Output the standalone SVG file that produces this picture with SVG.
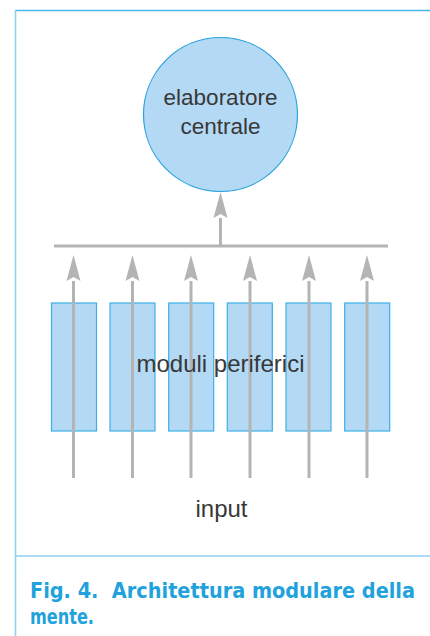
<svg xmlns="http://www.w3.org/2000/svg" width="430" height="636" viewBox="0 0 430 636">
  <style>
    .frame { stroke: #45b6e8; stroke-width: 1.6; fill: none; }
    .frame-side { stroke: #8ed2f0; stroke-width: 1.6; fill: none; }
    .wire { stroke: #b4b4b4; stroke-width: 3; fill: none; }
    .module { fill: #b3d9f5; stroke: #3cb0e6; stroke-width: 1.2; }
    .core { fill: #b3d9f5; stroke: #2aa3dc; stroke-width: 1.2; }
    .label { font-family: "Liberation Sans", Arial, sans-serif; fill: #383838; text-anchor: middle; }
    .caption { font-family: "Liberation Sans Narrow", "DejaVu Sans Condensed", "Liberation Sans", sans-serif; font-stretch: condensed; font-weight: bold; font-size: 21.5px; fill: #22a2dd; white-space: pre; }
  </style>
  <defs>
    <marker id="head" markerUnits="userSpaceOnUse" markerWidth="30" markerHeight="16" viewBox="-2 -8 30 16" refX="0" refY="0" orient="auto">
      <path d="M26,0 L0,-7 L4,0 L0,7 Z" fill="#b4b4b4"/>
    </marker>
  </defs>

  <!-- page frame -->
  <line class="frame" x1="15" y1="10.5" x2="430" y2="10.5"/>
  <line class="frame-side" x1="15.5" y1="10" x2="15.5" y2="636"/>
  <line class="frame-side" x1="15" y1="556" x2="430" y2="556"/>

  <!-- peripheral modules -->
  <g id="modulo-1"><rect class="module" x="51.5" y="303" width="45" height="128"/></g>
  <g id="modulo-2"><rect class="module" x="110" y="303" width="45" height="128"/></g>
  <g id="modulo-3"><rect class="module" x="168.7" y="303" width="45" height="128"/></g>
  <g id="modulo-4"><rect class="module" x="227.3" y="303" width="45" height="128"/></g>
  <g id="modulo-5"><rect class="module" x="286" y="303" width="45" height="128"/></g>
  <g id="modulo-6"><rect class="module" x="344.7" y="303" width="45" height="128"/></g>

  <!-- central processor -->
  <g id="elaboratore-centrale">
    <circle class="core" cx="220.5" cy="114.5" r="77"/>
    <text class="label" x="220.5" y="105" font-size="22.5">elaboratore</text>
    <text class="label" x="220.5" y="134" font-size="22.5">centrale</text>
  </g>

  <!-- connectors -->
  <g id="connettori">
    <line class="wire" x1="73.5" y1="478" x2="73.5" y2="281" marker-end="url(#head)"/>
    <line class="wire" x1="132.5" y1="478" x2="132.5" y2="281" marker-end="url(#head)"/>
    <line class="wire" x1="191" y1="478" x2="191" y2="281" marker-end="url(#head)"/>
    <line class="wire" x1="250" y1="478" x2="250" y2="281" marker-end="url(#head)"/>
    <line class="wire" x1="309" y1="478" x2="309" y2="281" marker-end="url(#head)"/>
    <line class="wire" x1="367" y1="478" x2="367" y2="281" marker-end="url(#head)"/>
    <line class="wire" x1="54" y1="246" x2="388" y2="246"/>
    <line class="wire" x1="220.5" y1="247" x2="220.5" y2="218" marker-end="url(#head)"/>
  </g>

  <!-- labels -->
  <g id="moduli-periferici">
    <text class="label" x="220.5" y="372" font-size="24">moduli periferici</text>
  </g>
  <g id="input">
    <text class="label" x="221.5" y="517" font-size="24">input</text>
  </g>

  <!-- caption -->
  <text class="caption" x="30" y="598" textLength="385" lengthAdjust="spacingAndGlyphs">Fig. 4.  Architettura modulare della</text>
  <text class="caption" x="30" y="624" textLength="64" lengthAdjust="spacingAndGlyphs">mente.</text>
</svg>
